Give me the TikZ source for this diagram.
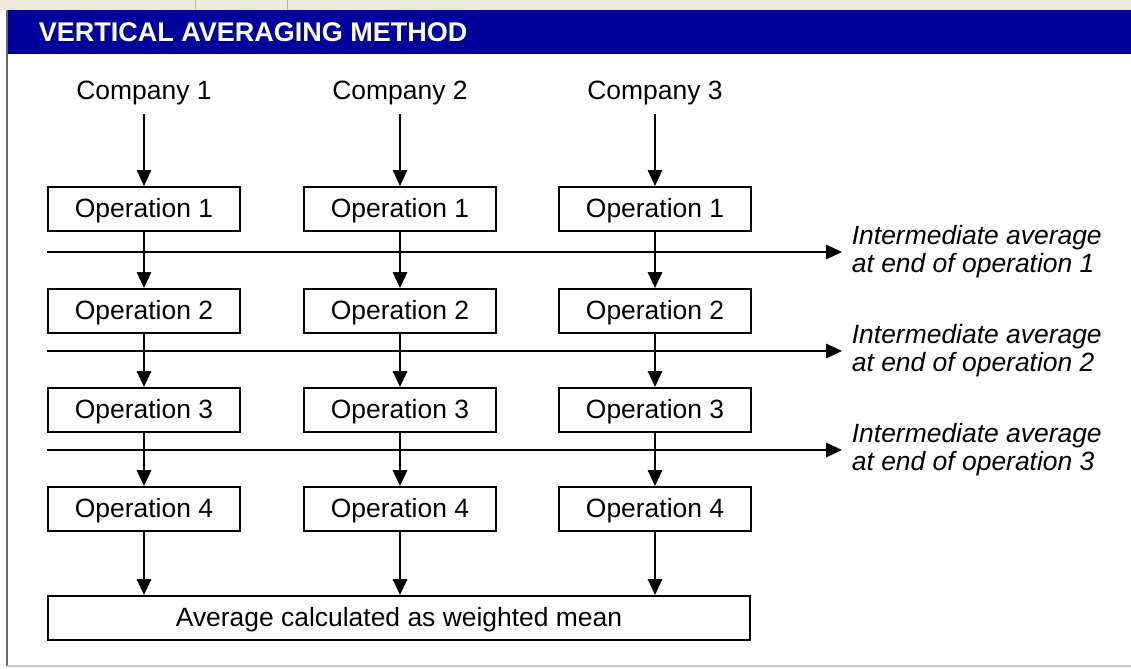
\documentclass[tikz,border=0pt]{standalone}
\usepackage{fontspec}
\setmainfont{Liberation Sans}
\usetikzlibrary{arrows.meta}

\definecolor{headblue}{RGB}{0,0,155}
\definecolor{stripbeige}{RGB}{236,233,216}

\tikzset{
    opbox/.style={rectangle,draw,line width=1.4pt,minimum width=4.8cm,minimum height=1.1cm,inner sep=0pt,text depth=0.05cm,font=\fontsize{18.8}{21}\selectfont},
    company/.style={inner sep=0pt,minimum height=1.05cm,font=\fontsize{18.8}{21}\selectfont},
    avglabel/.style={align=left,inner xsep=0.24cm,inner ysep=0pt,font=\fontsize{18.8}{20}\selectfont\itshape},
    flow/.style={line width=1.4pt,-{Triangle[length=0.4cm,width=0.36cm]}}
}

\begin{document}
\begin{tikzpicture}[x=0.025cm,y=-0.025cm]
        \useasboundingbox (0,0) rectangle (1131,669);
        \fill[white] (0,0) rectangle (1131,669);
        \fill[stripbeige] (0,0) rectangle (1131,10);
        \draw[gray!60] (195,0) -- (195,10);
        \draw[gray!60] (287,0) -- (287,10);
        \fill[headblue] (8,10) rectangle (1131,54);
        \draw[gray!80!black,line width=1.2pt] (7,10) -- (7,666);
        \draw[gray!45,line width=1.2pt] (7,666) -- (1131,666);
        \node[anchor=west,text=white,font=\fontsize{19.2}{22}\selectfont\bfseries] (title) at (34,32) {VERTICAL AVERAGING METHOD};

        \node[company] (C1) at (144,93) {Company 1};
        \node[company] (C2) at (400,93) {Company 2};
        \node[company] (C3) at (655,93) {Company 3};

        \node[opbox] (O11) at (144,209) {Operation 1};
        \node[opbox] (O21) at (400,209) {Operation 1};
        \node[opbox] (O31) at (655,209) {Operation 1};
        \node[opbox] (O12) at (144,311) {Operation 2};
        \node[opbox] (O22) at (400,311) {Operation 2};
        \node[opbox] (O32) at (655,311) {Operation 2};
        \node[opbox] (O13) at (144,410) {Operation 3};
        \node[opbox] (O23) at (400,410) {Operation 3};
        \node[opbox] (O33) at (655,410) {Operation 3};
        \node[opbox] (O14) at (144,509) {Operation 4};
        \node[opbox] (O24) at (400,509) {Operation 4};
        \node[opbox] (O34) at (655,509) {Operation 4};

        \node[opbox,minimum width=17.55cm] (Avg) at (399,618) {Average calculated as weighted mean};

        \node[avglabel,anchor=west] (I1) at (842,252) {Intermediate average\\at end of operation 1};
        \node[avglabel,anchor=west] (I2) at (842,351) {Intermediate average\\at end of operation 2};
        \node[avglabel,anchor=west] (I3) at (842,450) {Intermediate average\\at end of operation 3};

        \coordinate (H1) at (O11.west |- I1.west);
        \coordinate (H2) at (O12.west |- I2.west);
        \coordinate (H3) at (O13.west |- I3.west);

        \draw[flow] (H1) -- (I1.west);
        \draw[flow] (H2) -- (I2.west);
        \draw[flow] (H3) -- (I3.west);

        \draw[flow] (C1) -- (O11);
        \draw[flow] (C2) -- (O21);
        \draw[flow] (C3) -- (O31);
        \draw[flow] (O11) -- (O12);
        \draw[flow] (O21) -- (O22);
        \draw[flow] (O31) -- (O32);
        \draw[flow] (O12) -- (O13);
        \draw[flow] (O22) -- (O23);
        \draw[flow] (O32) -- (O33);
        \draw[flow] (O13) -- (O14);
        \draw[flow] (O23) -- (O24);
        \draw[flow] (O33) -- (O34);
        \draw[flow] (O14) -- (O14 |- Avg.north);
        \draw[flow] (O24) -- (O24 |- Avg.north);
        \draw[flow] (O34) -- (O34 |- Avg.north);

    \end{tikzpicture}
\end{document}
